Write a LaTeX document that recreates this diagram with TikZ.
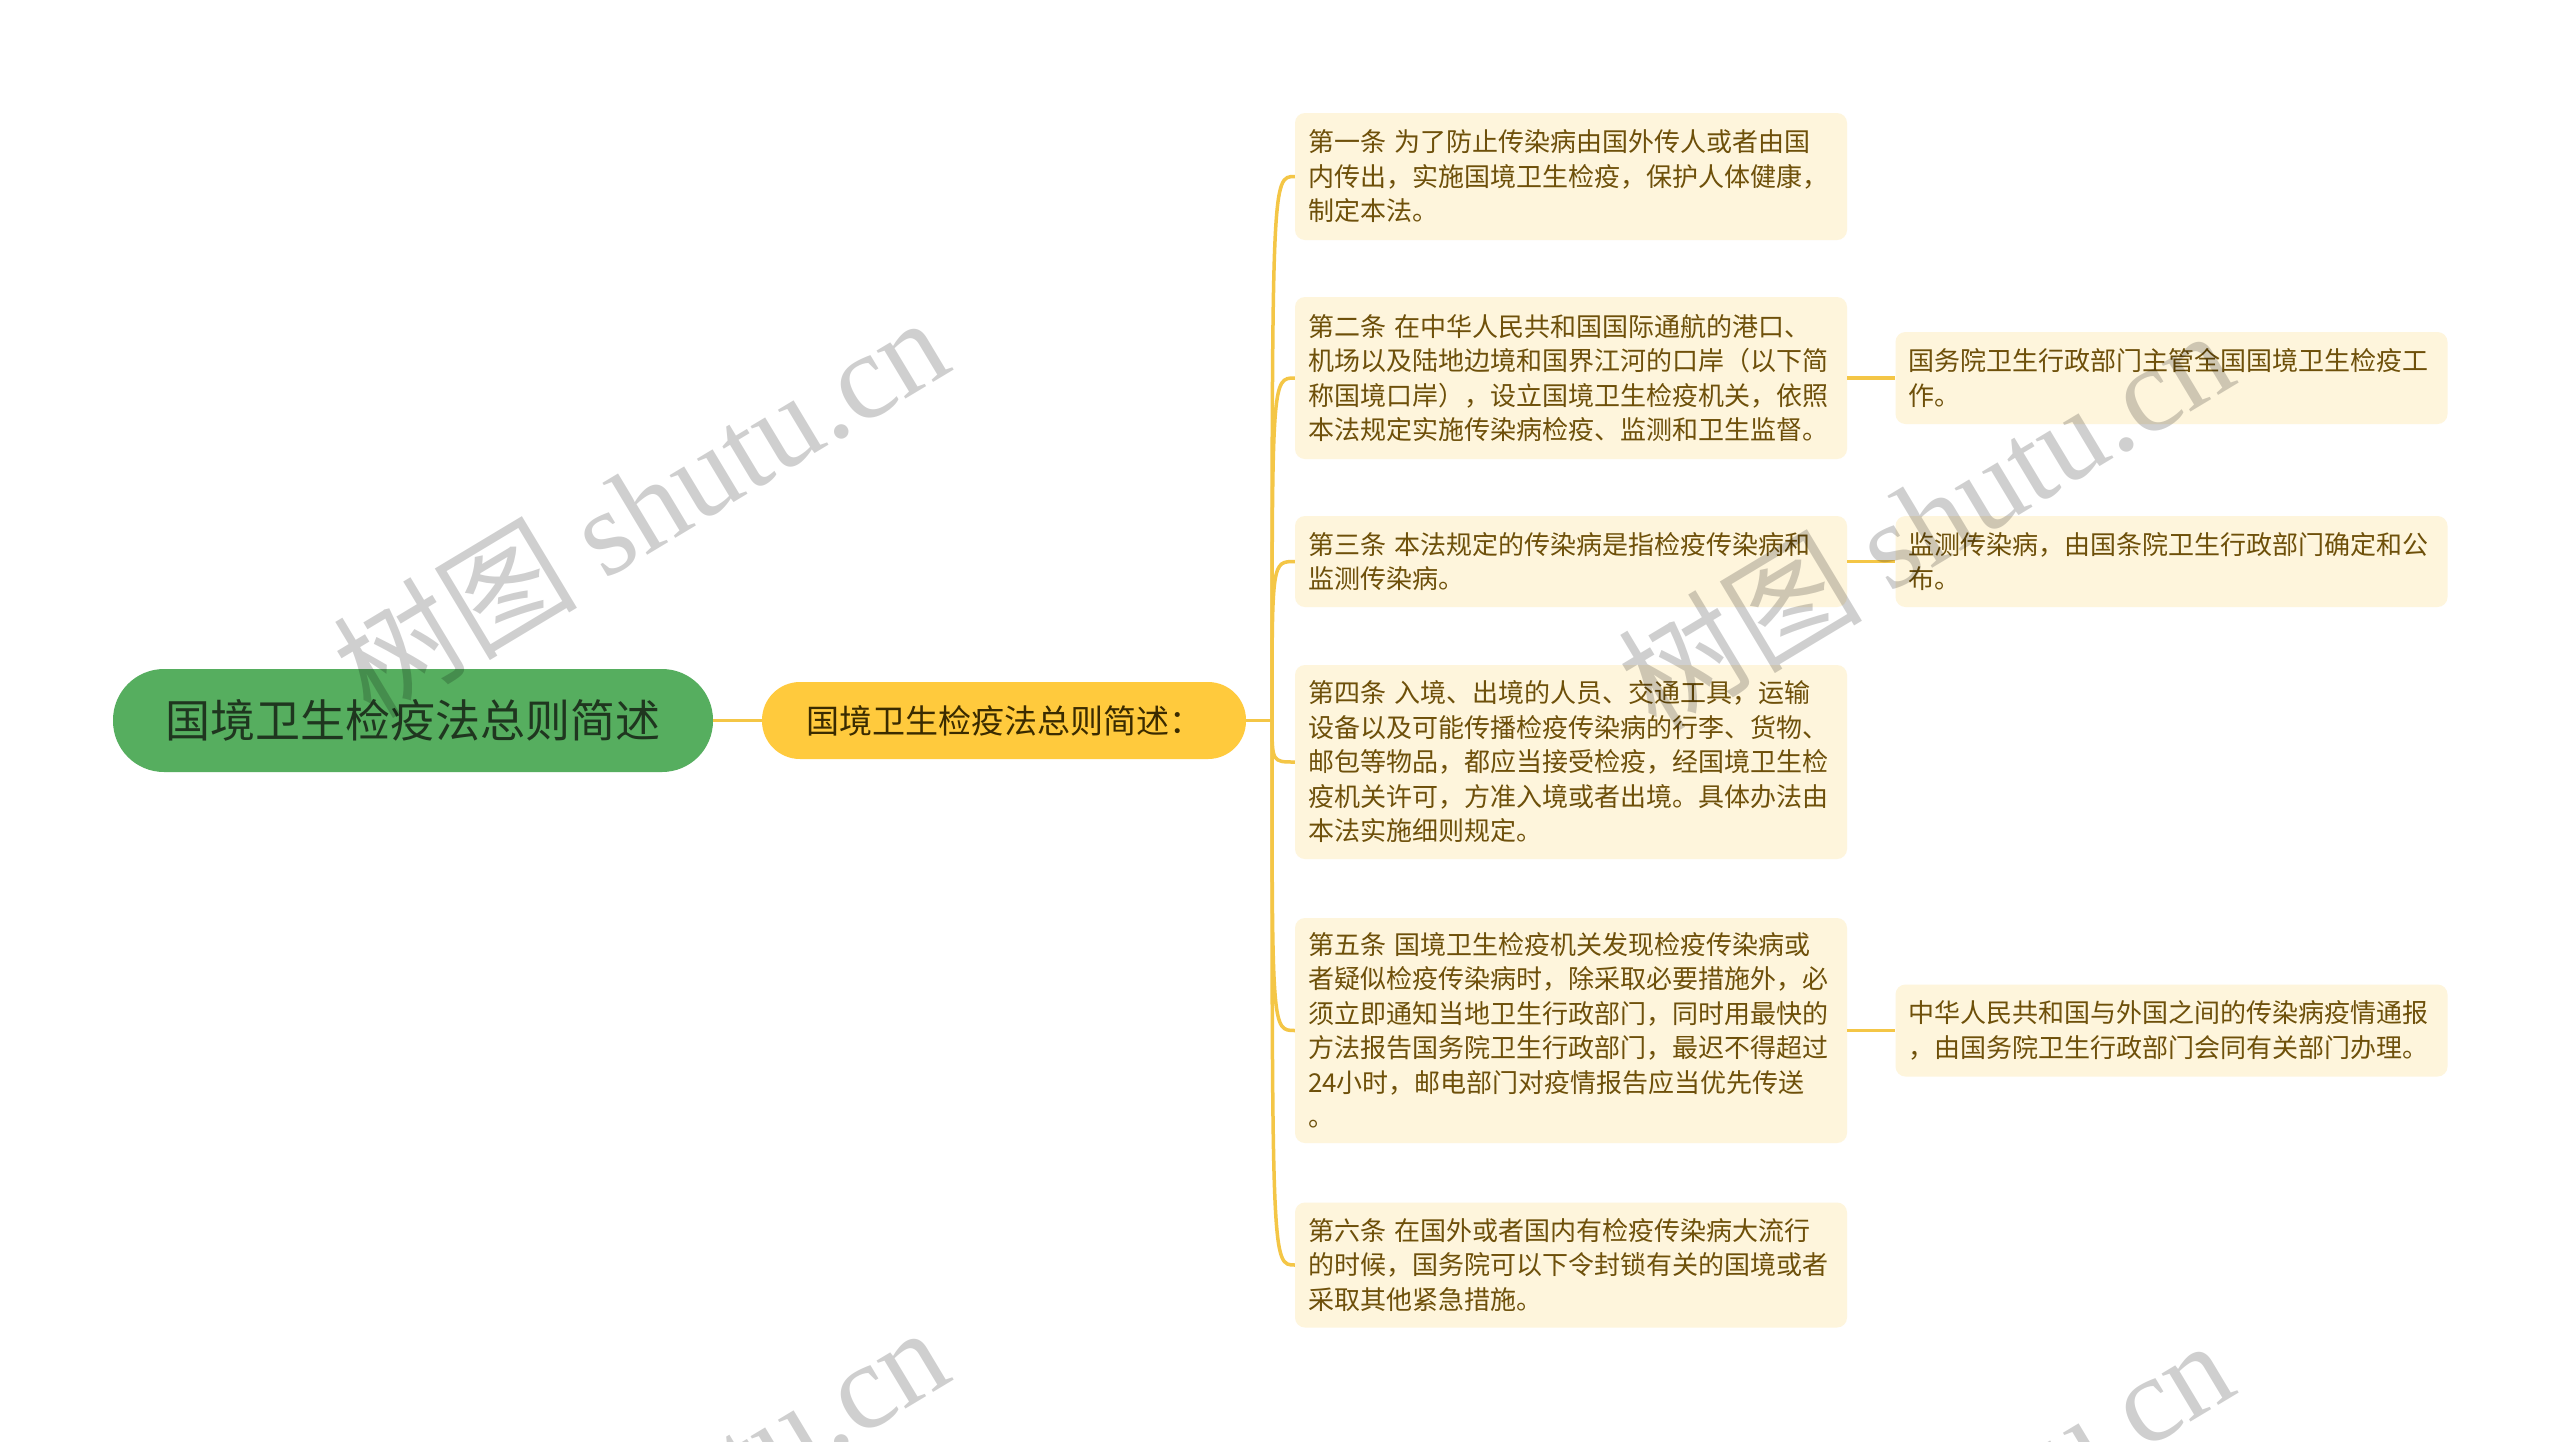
\documentclass[tikz,border=0pt]{standalone}
\usepackage{fontspec}
\setmainfont{Noto Sans CJK SC}
\newfontfamily\wmcjk{Noto Sans CJK SC}
\newfontfamily\wmlat{Liberation Serif}
\definecolor{rootfill}{HTML}{56AE5F}
\definecolor{roottext}{HTML}{1F361F}
\definecolor{midfill}{HTML}{FFCA3D}
\definecolor{midtext}{HTML}{3A2B00}
\definecolor{boxfill}{HTML}{FEF5DC}
\definecolor{boxtext}{HTML}{6E500A}
\definecolor{connc}{HTML}{F4C646}
\begin{document}
\begin{tikzpicture}[x=1pt,y=-1pt,
  rootnode/.style={fill=rootfill, text=roottext, rounded corners=51pt, minimum width=600pt, minimum height=103pt, inner sep=0pt, font=\fontsize{45pt}{54pt}\selectfont},
  midnode/.style={fill=midfill, text=midtext, rounded corners=38pt, minimum width=484pt, minimum height=77pt, inner sep=0pt, font=\fontsize{33pt}{40pt}\selectfont},
  leaf/.style={fill=boxfill, text=boxtext, rounded corners=10pt, text width=526pt, inner xsep=13pt, inner ysep=0pt, align=left, font=\fontsize{26pt}{34.5pt}\selectfont},
  conn/.style={draw=connc, line width=3.5pt},
  wm/.style={text=black, text opacity=0.19, rotate=31, inner sep=0pt}
]
\useasboundingbox (0,0) rectangle (2560,1441);
\clip (0,0) rectangle (2560,1441);
\fill[white] (0,0) rectangle (2560,1441);

\node[rootnode] (root) at (413,720.5) {国境卫生检疫法总则简述};
\node[midnode] (mid) at (1004,720.5) {国境卫生检疫法总则简述：};

\node[leaf, minimum height=127pt] (c1) at (1571,176.5) {第一条 为了防止传染病由国外传人或者由国\\内传出，实施国境卫生检疫，保护人体健康，\\制定本法。};
\node[leaf, minimum height=162pt] (c2) at (1571,378) {第二条 在中华人民共和国国际通航的港口、\\机场以及陆地边境和国界江河的口岸（以下简\\称国境口岸），设立国境卫生检疫机关，依照\\本法规定实施传染病检疫、监测和卫生监督。};
\node[leaf, minimum height=91pt] (c3) at (1571,561.5) {第三条 本法规定的传染病是指检疫传染病和\\监测传染病。};
\node[leaf, minimum height=194pt] (c4) at (1571,762) {第四条 入境、出境的人员、交通工具，运输\\设备以及可能传播检疫传染病的行李、货物、\\邮包等物品，都应当接受检疫，经国境卫生检\\疫机关许可，方准入境或者出境。具体办法由\\本法实施细则规定。};
\node[leaf, minimum height=225pt] (c5) at (1571,1030.5) {第五条 国境卫生检疫机关发现检疫传染病或\\者疑似检疫传染病时，除采取必要措施外，必\\须立即通知当地卫生行政部门，同时用最快的\\方法报告国务院卫生行政部门，最迟不得超过\\24小时，邮电部门对疫情报告应当优先传送\\。};
\node[leaf, minimum height=125pt] (c6) at (1571,1265) {第六条 在国外或者国内有检疫传染病大流行\\的时候，国务院可以下令封锁有关的国境或者\\采取其他紧急措施。};

\node[leaf, minimum height=92pt] (d2) at (2171.5,378) {国务院卫生行政部门主管全国国境卫生检疫工\\作。};
\node[leaf, minimum height=91pt] (d3) at (2171.5,561.5) {监测传染病，由国条院卫生行政部门确定和公\\布。};
\node[leaf, minimum height=92pt] (d5) at (2171.5,1030.5) {中华人民共和国与外国之间的传染病疫情通报\\，由国务院卫生行政部门会同有关部门办理。};

\coordinate (sp) at (1272,720.5);
\draw[conn] (root.east) -- (mid.west);
\draw[conn] (mid.east) -- (sp);
\foreach \c in {c1,c2,c3,c4,c5,c6}{
  \draw[conn] (sp) .. controls (sp |- \c.west) and (sp |- \c.west) .. (\c.west);
}
\draw[conn] (c2.east) -- (d2.west);
\draw[conn] (c3.east) -- (d3.west);
\draw[conn] (c5.east) -- (d5.west);

\node[wm] (wm1) at (640,505) {\fontsize{122pt}{130pt}\selectfont{\wmcjk 树图} {\wmlat shutu.cn}};
\node[wm] (wm2) at (1925,518) {\fontsize{122pt}{130pt}\selectfont{\wmcjk 树图} {\wmlat shutu.cn}};
\node[wm] (wm3) at (640,1515) {\fontsize{122pt}{130pt}\selectfont{\wmcjk 树图} {\wmlat shutu.cn}};
\node[wm] (wm4) at (1925,1528) {\fontsize{122pt}{130pt}\selectfont{\wmcjk 树图} {\wmlat shutu.cn}};
\end{tikzpicture}
\end{document}
